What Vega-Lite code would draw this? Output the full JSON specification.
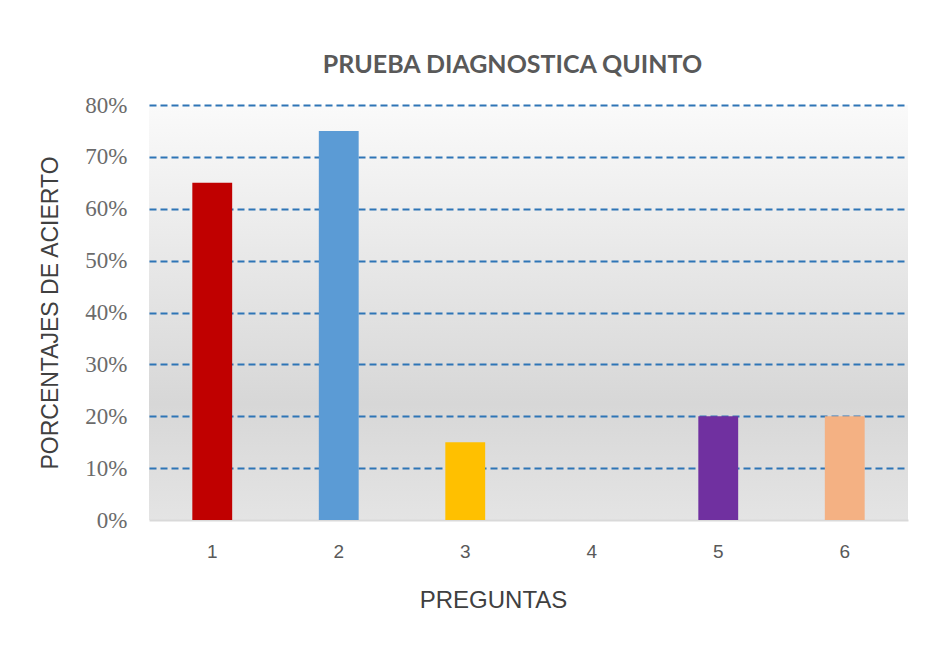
{
  "$schema": "https://vega.github.io/schema/vega-lite/v6.json",
  "autosize": "none",
  "width": 759,
  "height": 415,
  "padding": {"left": 149, "top": 105, "right": 35, "bottom": 125},
  "background": "white",
  "title": {
    "text": "PRUEBA DIAGNOSTICA QUINTO",
    "font": "Lato",
    "fontSize": 25,
    "fontWeight": "bold",
    "color": "#595959",
    "offset": 16,
    "dx": -16
  },
  "view": {
    "stroke": null,
    "fill": {
      "gradient": "linear",
      "x1": 0, "y1": 0, "x2": 0, "y2": 1,
      "stops": [
        {"offset": 0, "color": "#fafafa"},
        {"offset": 0.72, "color": "#d7d7d7"},
        {"offset": 1, "color": "#e4e4e4"}
      ]
    }
  },
  "data": {
    "values": [
      {"pregunta": "1", "acierto": 0.65},
      {"pregunta": "2", "acierto": 0.75},
      {"pregunta": "3", "acierto": 0.15},
      {"pregunta": "4", "acierto": 0},
      {"pregunta": "5", "acierto": 0.20},
      {"pregunta": "6", "acierto": 0.20}
    ]
  },
  "mark": {"type": "bar"},
  "encoding": {
    "x": {
      "field": "pregunta",
      "type": "ordinal",
      "scale": {"paddingInner": 0.685},
      "axis": {
        "title": "PREGUNTAS",
        "titleFont": "Liberation Sans",
        "titleFontSize": 24,
        "titleFontWeight": "normal",
        "titleColor": "#404040",
        "titlePadding": 27,
        "titleX": 344,
        "labelAngle": 0,
        "labelFont": "Liberation Sans",
        "labelFontSize": 19,
        "labelColor": "#595959",
        "labelPadding": 22,
        "ticks": false,
        "domain": true,
        "domainColor": "#d9d9d9",
        "domainWidth": 2
      }
    },
    "y": {
      "field": "acierto",
      "type": "quantitative",
      "scale": {"domain": [0, 0.8], "nice": false},
      "axis": {
        "title": "PORCENTAJES DE ACIERTO",
        "titleFont": "Liberation Sans",
        "titleFontSize": 23,
        "titleFontWeight": "normal",
        "titleColor": "#404040",
        "titlePadding": 22,
        "format": ".0%",
        "values": [0, 0.1, 0.2, 0.3, 0.4, 0.5, 0.6, 0.7, 0.8],
        "labelFont": "Liberation Serif",
        "labelFontSize": 23,
        "labelColor": "#6b6b6b",
        "labelPadding": 22,
        "ticks": false,
        "domain": false,
        "grid": true,
        "gridColor": {"condition": {"test": "datum.value === 0", "value": "transparent"}, "value": "#2e75b6"},
        "gridWidth": 2,
        "gridDash": [7, 4]
      }
    },
    "color": {
      "field": "pregunta",
      "type": "nominal",
      "scale": {
        "domain": ["1", "2", "3", "4", "5", "6"],
        "range": ["#c00000", "#5b9bd5", "#ffc000", "#a5a5a5", "#7030a0", "#f4b183"]
      },
      "legend": null
    }
  }
}
